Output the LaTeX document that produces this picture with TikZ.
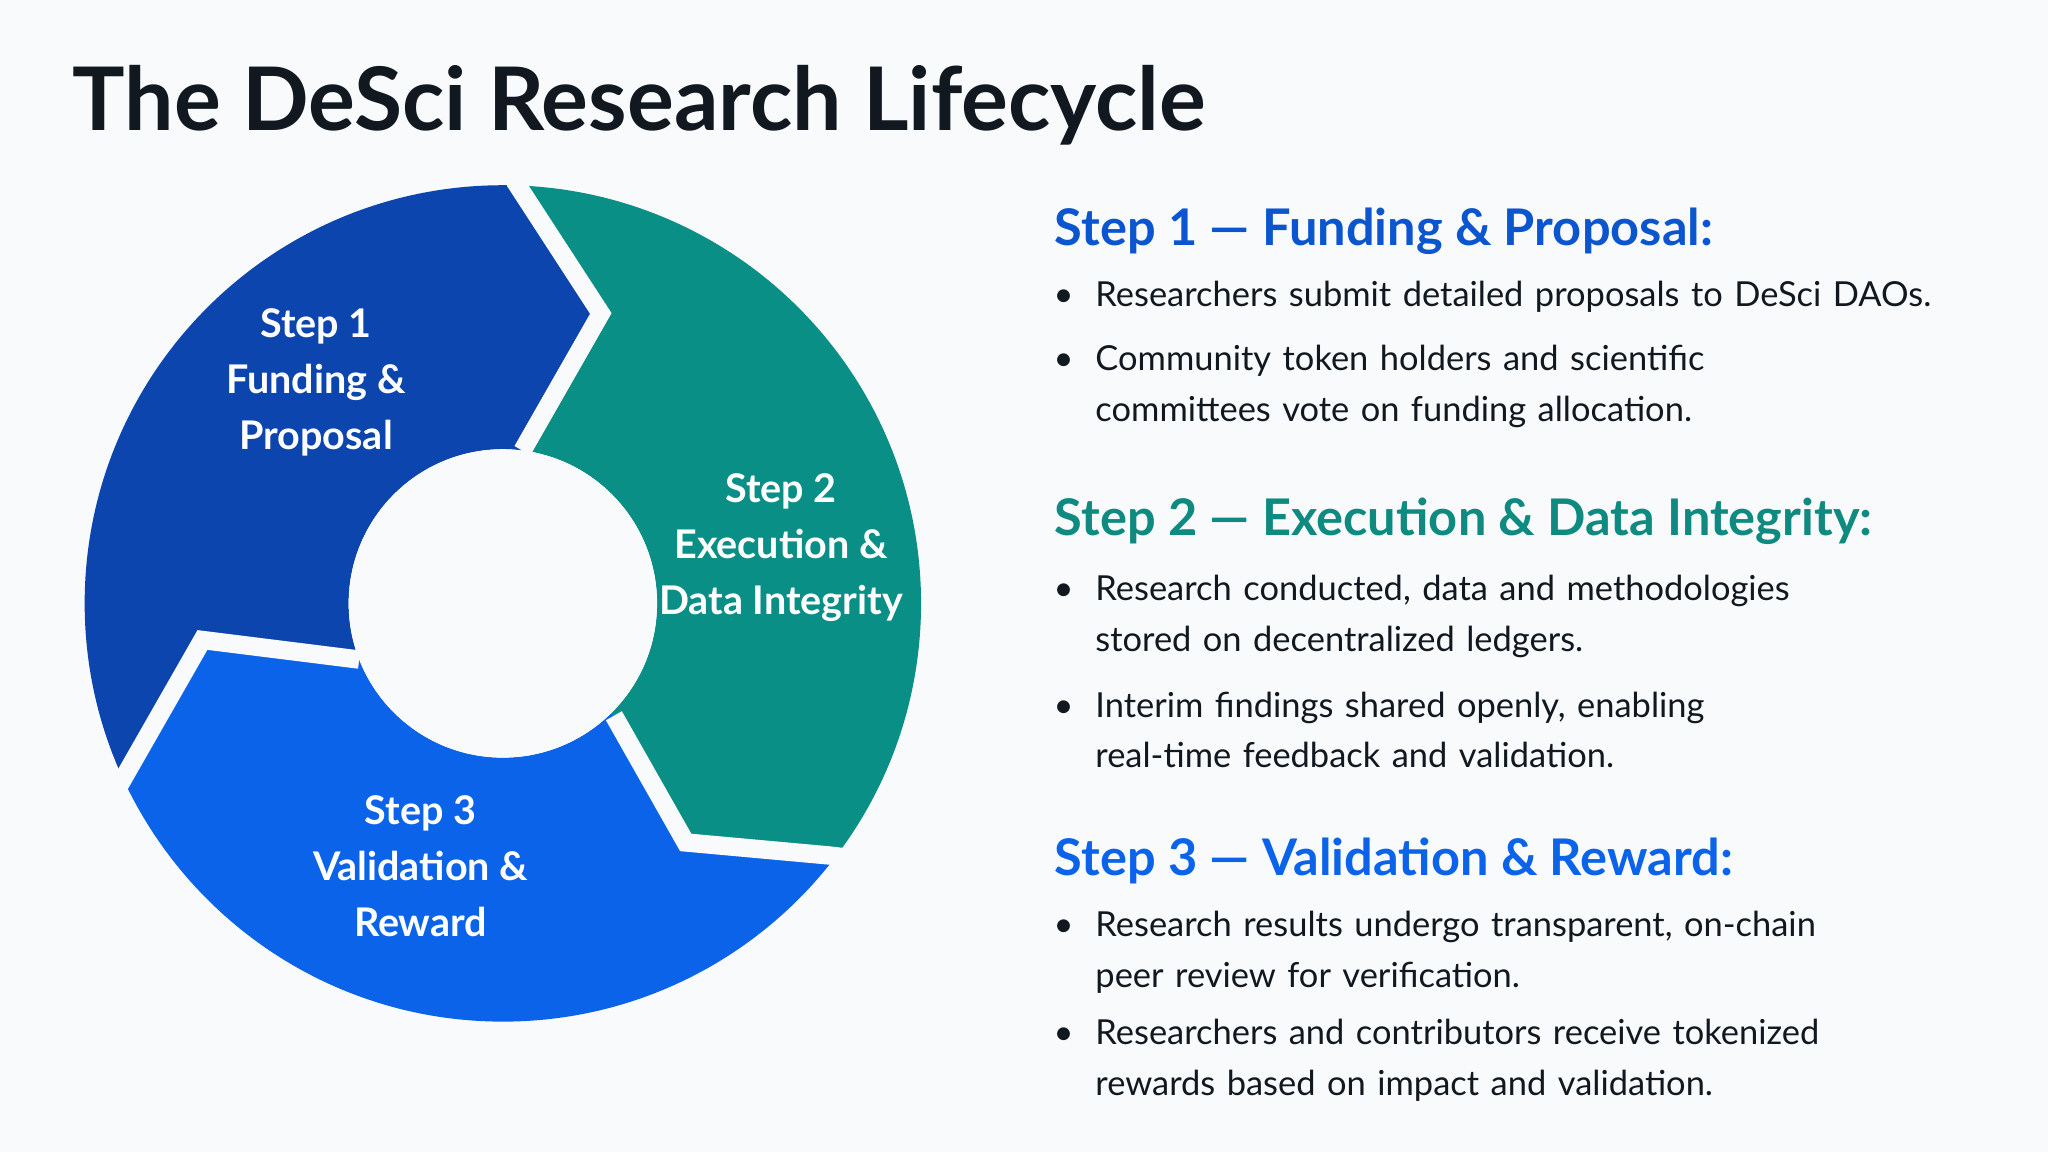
\documentclass[tikz,border=0pt]{standalone}
\usepackage{fontspec}
\setmainfont{Lato}
\definecolor{cA}{HTML}{0B45AD}
\definecolor{cB}{HTML}{0A8F86}
\definecolor{cC}{HTML}{0A63E8}
\definecolor{hA}{HTML}{0B55CF}
\definecolor{hB}{HTML}{0E8A80}
\definecolor{hC}{HTML}{0A63E8}
\definecolor{ink}{HTML}{111820}
\definecolor{bg}{HTML}{F9FAFC}
\begin{document}
\begin{tikzpicture}[x=0.01cm,y=-0.01cm,
 seg/.style={white,font=\fontsize{8.6}{12.2}\selectfont\bfseries,align=center},
 head/.style={anchor=base west,inner sep=0pt,font=\fontsize{11}{13}\selectfont\bfseries},
 bul/.style={anchor=base west,text width=6.9cm,inner sep=0pt,align=left,text=ink,font=\fontsize{7.5}{11}\selectfont},
 dot/.style={anchor=base west,inner sep=0pt,text=ink,font=\fontsize{7.5}{11}\selectfont}]
\fill[bg] (0,0) rectangle (1568,882);
\useasboundingbox (0,0) rectangle (1568,882);
\node[anchor=base west,inner sep=0pt,text=ink,font=\fontsize{19.1}{22}\selectfont\bfseries] (title) at (55,100) {The DeSci Research Lifecycle};
\coordinate (c) at (385,462);
\begin{scope}\clip (385,462)--(275,505)--(155,490)--(95,595)--(40,690)--(0,700)--(0,0)--(385,0)--(385,60)--(395,140)--(460,240)--(400,345)--cycle;
\fill[cA,even odd rule] (c) circle[radius=3.2cm] (c) circle[radius=1.18cm];\end{scope}
\begin{scope}\clip (385,462)--(400,345)--(460,240)--(395,140)--(385,60)--(385,0)--(800,0)--(800,665)--(720,665)--(635,655)--(525,645)--(470,548)--cycle;
\fill[cB,even odd rule] (c) circle[radius=3.2cm] (c) circle[radius=1.18cm];\end{scope}
\begin{scope}\clip (385,462)--(470,548)--(525,645)--(635,655)--(720,665)--(720,900)--(0,900)--(0,700)--(40,690)--(95,595)--(155,490)--(275,505)--cycle;
\fill[cC,even odd rule] (c) circle[radius=3.2cm] (c) circle[radius=1.18cm];\end{scope}
\begin{scope}\clip (c) circle[radius=3.3cm];
\draw[bg,line width=4pt,line join=miter] (400,345)--(460,240)--(395,140)--(385,60);
\draw[bg,line width=4pt,line join=miter] (470,548)--(525,645)--(635,655)--(720,665);
\draw[bg,line width=4pt,line join=miter] (275,505)--(155,490)--(95,595)--(40,690);
\end{scope}
\fill[bg] (c) circle[radius=1.18cm];
\node[seg] (s1) at (242,293) {Step 1\\Funding \&\\Proposal};
\node[seg] (s2) at (598,419) {Step 2\\Execution \&\\Data Integrity};
\node[seg] (s3) at (322,663) {Step 3\\Validation \&\\Reward};
\node[head,text=hA] (h1) at (807,188) {Step 1 — Funding \& Proposal:};
\node[dot] (d1) at (806,235) {•};\node[bul] (b1) at (838,235) {Researchers submit detailed proposals to DeSci DAOs.};
\node[dot] (d2) at (806,284) {•};\node[bul] (b2) at (838,284) {Community token holders and scientific\\committees vote on funding allocation.};
\node[head,text=hB] (h2) at (807,410) {Step 2 — Execution \& Data Integrity:};
\node[dot] (d3) at (806,460) {•};\node[bul] (b3) at (838,460) {Research conducted, data and methodologies\\stored on decentralized ledgers.};
\node[dot] (d4) at (806,549) {•};\node[bul] (b4) at (838,549) {Interim findings shared openly, enabling\\real-time feedback and validation.};
\node[head,text=hC] (h3) at (807,670) {Step 3 — Validation \& Reward:};
\node[dot] (d5) at (806,717) {•};\node[bul] (b5) at (838,717) {Research results undergo transparent, on-chain\\peer review for verification.};
\node[dot] (d6) at (806,800) {•};\node[bul] (b6) at (838,800) {Researchers and contributors receive tokenized\\rewards based on impact and validation.};
\end{tikzpicture}
\end{document}
